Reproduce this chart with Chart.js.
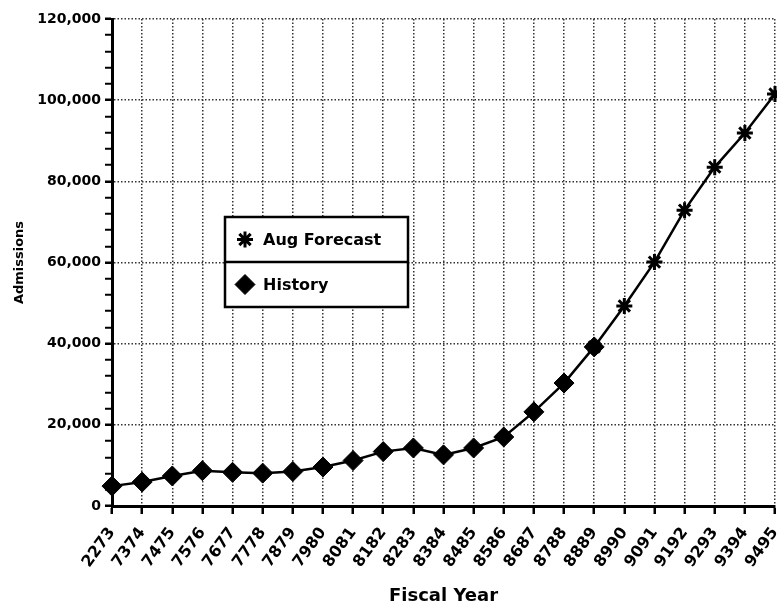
<!DOCTYPE html>
<html lang="en">
<head>
<meta charset="UTF-8">
<title>Admissions by Fiscal Year</title>
<script src="https://cdn.jsdelivr.net/npm/chart.js"></script>
<style>
    html, body { margin: 0; padding: 0; background: #fff; }
    canvas { display: block; }
</style>
</head>
<body>
<canvas id="myChart" width="777" height="607"></canvas>
<script>
// fiscal years (7273 shows as 2273 on the original)
const years = ['2273', '7374', '7475', '7576', '7677', '7778', '7879', '7980', '8081', '8182', '8283',
               '8384', '8485', '8586', '8687', '8788', '8889', '8990', '9091', '9192', '9293', '9394', '9495'];
const historyData = [4900, 5900, 7400, 8700, 8300, 8100, 8500, 9600, 11200, 13400, 14300,
                     12600, 14300, 17000, 23200, 30300, 39200, null, null, null, null, null, null];
const forecastData = [null, null, null, null, null, null, null, null, null, null, null,
                      null, null, null, null, null, 39200, 49300, 60100, 72900, 83500, 91900, 101500];
const yTicks = [0, 20000, 40000, 60000, 80000, 100000, 120000];

const FONT = 'DejaVu Sans';

// legend drawn as a boxed panel inside the plot
const boxLegend = {
    id: 'boxLegend',
    afterDatasetsDraw(chart) {
        const ctx = chart.ctx;
        const x0 = 225, y0 = 217, w = 183, h = 90;
        ctx.save();
        ctx.fillStyle = '#fff';
        ctx.fillRect(x0, y0, w, h);
        ctx.strokeStyle = '#000';
        ctx.lineWidth = 2.5;
        ctx.strokeRect(x0, y0, w, h);
        ctx.beginPath();
        ctx.moveTo(x0, y0 + h / 2);
        ctx.lineTo(x0 + w, y0 + h / 2);
        ctx.stroke();

        chart.data.datasets.forEach((ds, i) => {
            const cy = y0 + h / 4 + i * h / 2;
            ctx.fillStyle = '#000';
            ctx.strokeStyle = '#000';
            ctx.lineWidth = ds.pointBorderWidth;
            Chart.helpers.drawPoint(ctx, {
                pointStyle: ds.pointStyle,
                radius: ds.pointRadius,
                borderWidth: ds.pointBorderWidth,
                rotation: 0
            }, x0 + 20, cy);
            ctx.fillStyle = '#000';
            ctx.font = 'bold 16px "' + FONT + '"';
            ctx.textBaseline = 'middle';
            ctx.fillText(ds.label, x0 + 38, cy + 1);
        });
        ctx.restore();
    }
};

const ctx = document.getElementById('myChart').getContext('2d');
const myChart = new Chart(ctx, {
    type: 'line',
    data: {
        labels: years,
        datasets: [{
            label: 'Aug Forecast',
            data: forecastData,
            borderColor: '#000',
            backgroundColor: '#000',
            borderWidth: 2.5,
            pointStyle: 'star',
            pointRadius: 8,
            pointBorderWidth: 3,
            tension: 0,
            clip: 12
        }, {
            label: 'History',
            data: historyData,
            borderColor: '#000',
            backgroundColor: '#000',
            borderWidth: 2.5,
            pointStyle: 'rectRot',
            pointRadius: 10,
            pointBorderWidth: 1,
            tension: 0,
            clip: 12
        }]
    },
    options: {
        responsive: false,
        animation: false,
        devicePixelRatio: 1,
        layout: { autoPadding: false, padding: { top: 19, right: 2, left: 0, bottom: 0 } },
        plugins: {
            legend: { display: false },
            tooltip: { enabled: false }
        },
        scales: {
            x: {
                offset: false,
                afterFit(s) { s.height = 101; s.paddingLeft = 0; s.paddingRight = 0; },
                grid: {
                    color: '#333',
                    lineWidth: 1.5,
                    tickColor: '#000',
                    tickLength: 8,
                    tickWidth: 2.5,
                    tickBorderDash: []
                },
                border: { display: true, color: '#000', width: 3, dash: [1.5, 2] },
                ticks: {
                    color: '#000',
                    font: { family: FONT, size: 16, weight: 'bold' },
                    maxRotation: 54,
                    minRotation: 54,
                    autoSkip: false,
                    padding: 10
                },
                title: {
                    display: true,
                    text: 'Fiscal Year',
                    color: '#000',
                    font: { family: FONT, size: 18, weight: 'bold' },
                    padding: { top: 0, bottom: 0 }
                }
            },
            y: {
                min: 0,
                max: 120000,
                afterFit(s) { s.width = 112; },
                afterBuildTicks(s) {
                    // minor ticks every 4,000, labels only on yTicks
                    const t = [];
                    for (let v = 0; v <= 120000; v += 4000) t.push({ value: v });
                    s.ticks = t;
                },
                grid: {
                    color: c => yTicks.includes(c.tick.value) ? '#333' : 'rgba(0,0,0,0)',
                    lineWidth: 1.5,
                    tickColor: '#000',
                    tickLength: 7,
                    tickWidth: c => yTicks.includes(c.tick.value) ? 2.5 : 2,
                    tickBorderDash: []
                },
                border: { display: true, color: '#000', width: 3, dash: [1.5, 2] },
                ticks: {
                    color: '#000',
                    font: { family: FONT, size: 14, weight: 'bold' },
                    autoSkip: false,
                    padding: 4,
                    callback: v => yTicks.includes(v) ? v.toLocaleString('en-US') : ''
                },
                title: {
                    display: true,
                    text: 'Admissions',
                    color: '#000',
                    font: { family: FONT, size: 13, weight: 'bold' },
                    padding: { top: 12, bottom: 0 }
                }
            }
        }
    },
    plugins: [boxLegend]
});
</script>
</body>
</html>
